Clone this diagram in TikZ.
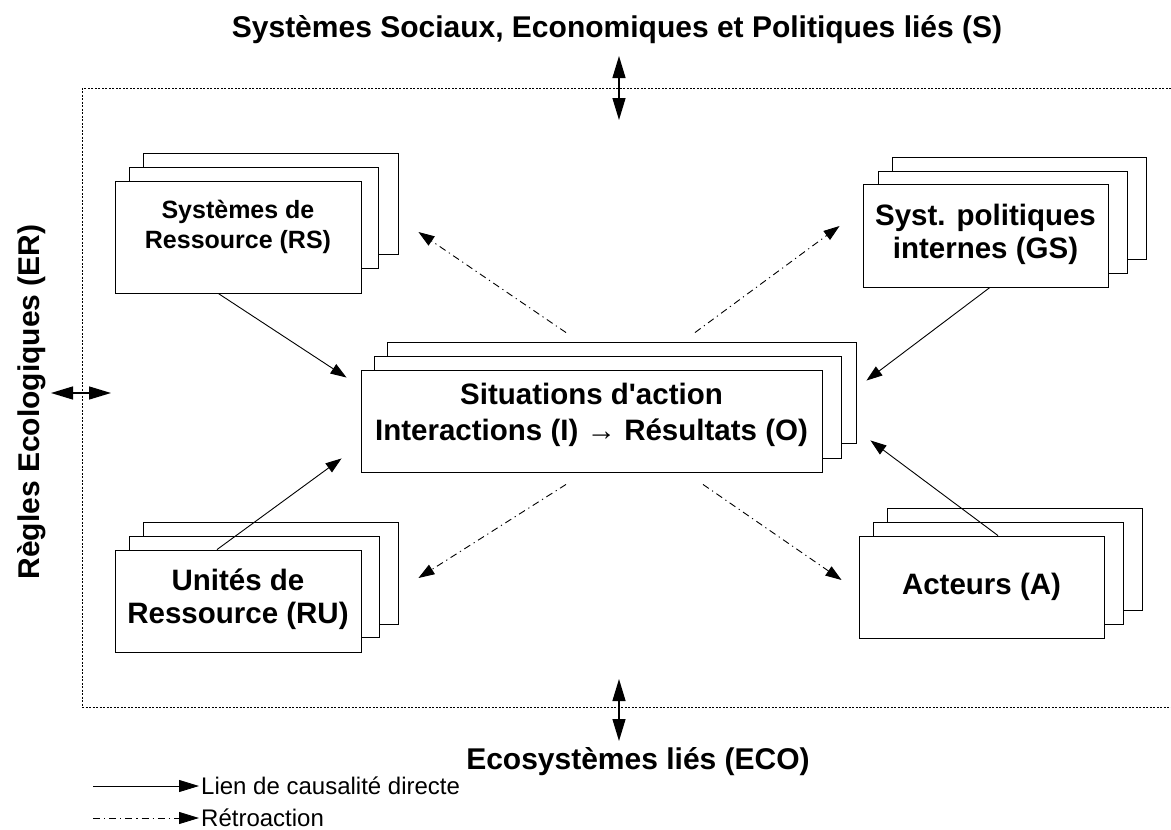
\documentclass[tikz,border=0pt]{standalone}
\usepackage{fontspec}
\setmainfont{Liberation Sans}
\newfontfamily\plainsans{Liberation Sans}
\usetikzlibrary{arrows.meta,calc}
\begin{document}
\begin{tikzpicture}[x=1pt,y=-1pt,
 layer/.style={draw=black,fill=white,line width=0.9pt},
 frontbox/.style={draw=black,fill=white,line width=0.9pt,inner sep=0pt},
 boxtext/.style={font=\fontsize{29.5}{33}\selectfont\bfseries,align=center,inner sep=0pt},
 causal/.style={line width=0.9pt,-{Triangle[length=16pt,width=11pt]}},
 feedback/.style={line width=0.9pt,dash pattern=on 7pt off 4pt on 1.2pt off 4pt,-{Triangle[length=16pt,width=11pt]}},
 exch/.style={line width=1.3pt,{Triangle[length=22pt,width=13pt]}-{Triangle[length=22pt,width=13pt]}},
 frame/.style={line width=0.9pt,dash pattern=on 2pt off 1.5pt},
 bigtitle/.style={font=\fontsize{30}{34}\selectfont\bfseries,inner sep=0pt},
 legtext/.style={font=\fontsize{24}{28}\selectfont,anchor=west,inner sep=0pt}]
\useasboundingbox (0,0) rectangle (1171,830);

% frame
\draw[frame] (1171,88) -| (82,707) -- (1171,707);

% titles
\node[bigtitle] (ttop) at (617,30) {Systèmes Sociaux, Economiques et Politiques liés (S)};
\node[bigtitle] (tbot) at (638,762) {Ecosystèmes liés (ECO)};
\node[bigtitle,rotate=90] (tleft) at (32,402) {Règles Ecologiques (ER)};

% RS stack
\draw[layer] (143,153) rectangle (398,254);
\draw[layer] (129,167) rectangle (378,268);
\node[frontbox,minimum width=246pt,minimum height=112pt] (rs) at (238,237) {};
\node[boxtext,font=\fontsize{25}{30}\selectfont\bfseries] (rstxt) at (238,227) {Systèmes de\\Ressource (RS)};

% GS stack
\draw[layer] (892,157) rectangle (1146,259);
\draw[layer] (878,171) rectangle (1127,273);
\node[frontbox,minimum width=245pt,minimum height=103pt] (gs) at (985.5,235.5) {};
\node[boxtext] (gstxt) at (985.5,234) {Syst. politiques\\internes (GS)};

% central stack
\draw[layer] (387,342) rectangle (856,443);
\draw[layer] (374,356) rectangle (841,458);
\node[frontbox,minimum width=461pt,minimum height=102pt] (sit) at (591.5,421) {};
\node[boxtext,font=\plainsans\fontsize{29.5}{36}\selectfont\bfseries] (sittxt) at (591.5,415) {Situations d'action\\Interactions (I) → Résultats (O)};

% RU stack
\draw[layer] (143,522) rectangle (398,624);
\draw[layer] (129,536) rectangle (379,637);
\node[frontbox,minimum width=246pt,minimum height=102pt] (ru) at (238,601) {};
\node[boxtext] (rutxt) at (238,599) {Unités de\\Ressource (RU)};

% A stack
\draw[layer] (887,508) rectangle (1142,610);
\draw[layer] (873,522) rectangle (1123,624);
\node[frontbox,minimum width=245pt,minimum height=102pt] (a) at (981.5,587) {};
\node[boxtext] (atxt) at (981.5,587) {Acteurs (A)};

% causal links
\draw[causal] ($(rs.south west)!0.42!(rs.south east)$) -- ($(sit.north west)+(-14,8)$);
\draw[causal] ($(gs.south west)!0.518!(gs.south east)$) -- ($(sit.north east)+(44,11)$);
\draw[causal] ($(ru.north west)!0.415!(ru.north east)$) -- ($(sit.south west)+(-19,-14)$);
\draw[causal] ($(a.north west)!0.567!(a.north east)$) -- ($(sit.south east)+(48,-32)$);

% feedback
\draw[feedback] ($(sit.north)+(-25.5,-37)$) -- ($(rs.east)+(57,-5)$);
\draw[feedback] ($(sit.north)+(103.5,-37)$) -- ($(gs.west)+(-23,-9.5)$);
\draw[feedback] ($(sit.south)+(-25.5,12)$) -- ($(ru.east)+(57,-23)$);
\draw[feedback] ($(sit.south)+(111.5,12)$) -- ($(a.west)+(-17,-7)$);

% exchanges with outside systems
\coordinate (s1) at (619,56);
\coordinate (s2) at (619,120);
\coordinate (e1) at (619,679);
\coordinate (e2) at (619,741);
\coordinate (r1) at (51,393);
\coordinate (r2) at (111,393);
\draw[exch] (s1) -- (s2);
\draw[exch] (e1) -- (e2);
\draw[exch] (r1) -- (r2);

% legend
\coordinate (l1a) at (93,786);
\coordinate (l1b) at (199,786);
\coordinate (l2a) at (93,818);
\coordinate (l2b) at (199,818);
\draw[causal,-{Triangle[length=20pt,width=12pt]}] (l1a) -- (l1b);
\draw[feedback,-{Triangle[length=20pt,width=12pt]}] (l2a) -- (l2b);
\node[legtext] (leg1) at (201,786) {Lien de causalité directe};
\node[legtext] (leg2) at (201,818) {Rétroaction};
\end{tikzpicture}
\end{document}
